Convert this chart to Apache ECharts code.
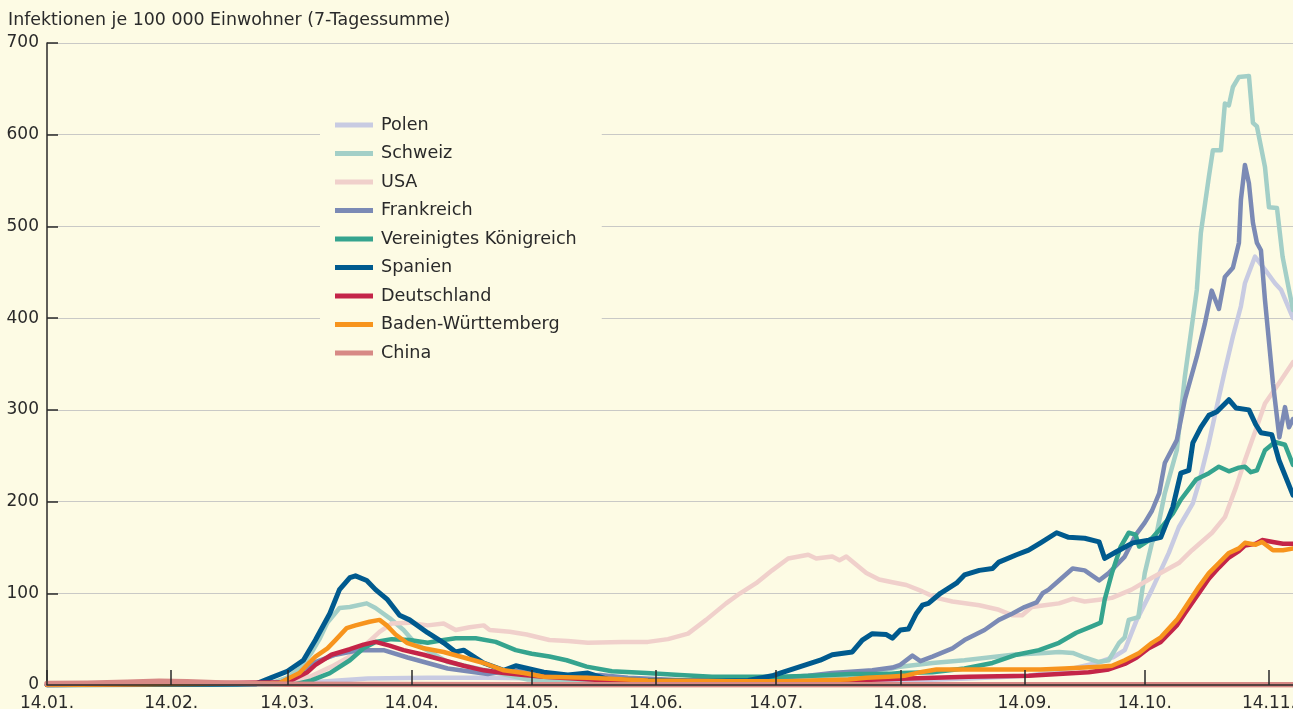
<!DOCTYPE html>
<html>
<head>
<meta charset="utf-8">
<script src="https://cdn.jsdelivr.net/npm/echarts@6/dist/echarts.min.js"></script>
<style>
html,body{margin:0;padding:0;background:#fdfbe4;}
#c{width:1293px;height:709px;}
</style>
</head>
<body>
<div id="c"></div>
<script>
// x = days since 14.01.2020
const tickDays = [0, 31, 60, 91, 121, 152, 182, 213, 244, 274, 305];
const tickLabels = ['14.01.', '14.02.', '14.03.', '14.04.', '14.05.', '14.06.', '14.07.', '14.08.', '14.09.', '14.10.', '14.11.'];
const yTicks = [0, 100, 200, 300, 400, 500, 600, 700];

const seriesNames = ['Polen', 'Schweiz', 'USA', 'Frankreich', 'Vereinigtes Königreich', 'Spanien', 'Deutschland', 'Baden-Württemberg', 'China'];

const polenDays = [0, 55, 62, 70, 80, 95, 110, 125, 140, 160, 180, 200, 215, 230, 245, 255, 262, 266, 269, 272, 275.8, 280, 282.5, 286, 287.5, 290, 291.8, 294, 296, 298, 299, 301.5, 304, 306.5, 308, 311];
const polenVals = [0, 0.5, 2, 4, 7, 8, 8, 7, 5, 4, 3, 4, 5, 7, 10, 17, 24, 30, 38, 71, 104, 144, 172, 198, 220, 264, 300, 343, 380, 413, 438, 467, 453, 438, 431, 400];

const schweizDays = [0, 56, 60, 63, 66, 68, 70, 73, 75.6, 79.8, 82, 85.5, 89, 92, 100, 120, 140, 160, 180, 195, 205, 213, 221, 229, 241, 249, 252.6, 256, 259, 262.6, 265, 267.6, 269, 270, 272.4, 274, 275.8, 277, 279, 282, 284, 287, 288, 290, 291, 293, 294, 295, 296, 297.5, 300, 301, 302, 304, 305, 307, 308.4, 310, 311];
const schweizVals = [0, 2, 8, 18, 35, 50, 68, 84, 85, 89, 84, 73, 60, 45, 25, 6, 3, 3, 5, 8, 12, 20, 24, 27, 33, 35, 36, 35, 30, 25, 27, 46, 52, 71, 74, 122, 155, 166, 209, 256, 336, 431, 493, 554, 583, 583, 634, 632, 652, 663, 664, 613, 609, 565, 521, 520, 467, 431, 409];

const usaDays = [0, 60, 65.6, 71, 75.6, 80, 83, 86, 90.5, 95, 99, 102, 105.5, 109, 110.5, 115.5, 119.7, 125.4, 130, 135, 143.6, 150, 155, 160, 164.5, 169.5, 173, 177, 181, 185, 190, 192, 196, 197.8, 199.5, 204.5, 207.7, 211, 214.5, 218.5, 222, 226, 232.7, 237.6, 241, 243.4, 245.8, 249, 252.6, 256, 259, 262.6, 265.8, 270.7, 275.8, 282.5, 285.8, 290.8, 294, 296.8, 299, 301.7, 304, 307.5, 311];
const usaVals = [0, 2, 9, 20, 31, 46, 58, 67, 68, 65, 67, 60, 63, 65, 60, 58, 55, 49, 48, 46, 47, 47, 50, 56, 71, 89, 100, 111, 125, 138, 142, 138, 140, 136, 140, 122, 115, 112, 109, 102, 95, 91, 87, 82, 76, 76, 85, 87, 89, 94, 91, 93, 95, 104, 117, 133, 147, 166, 183, 216, 245, 278, 307, 329, 352];

const frankDays = [0, 58, 63, 67, 72, 78, 84, 90, 100, 110, 116, 122, 130, 138, 145, 160, 175, 190, 196, 206, 211, 213, 216, 218, 221, 226, 229, 234, 237.6, 241, 244, 247, 248.5, 250, 252.6, 256, 259, 262.6, 265, 269, 271.8, 274, 275.8, 277.6, 279, 282, 284, 287, 289, 290.7, 292.5, 294, 296, 297.5, 298, 299, 300, 301, 302, 303, 304, 306, 307.6, 309, 310, 311];
const frankVals = [0, 2, 12, 25, 33, 38, 38, 30, 18, 12, 16, 14, 9, 11, 8, 5, 6, 10, 13, 16, 19, 22, 32, 26, 31, 40, 49, 60, 71, 78, 85, 90, 100, 104, 114, 127, 125, 114, 122, 140, 164, 177, 190, 209, 242, 267, 311, 358, 394, 430, 410, 445, 455, 482, 529, 567, 547, 504, 482, 474, 420, 329, 270, 303, 281, 290];

const ukDays = [0, 62, 66, 70.6, 75.6, 79, 82, 86, 90.5, 95, 99, 102, 107, 112, 117, 121, 125.4, 129.7, 134.7, 141, 149.6, 157.9, 166, 174.6, 182.8, 191, 201, 210, 213, 221, 229, 236, 242, 247.6, 252.6, 256.9, 260.8, 263, 264, 265.8, 268, 270, 271.7, 272.6, 275.8, 278, 281, 283, 286.8, 290, 292.5, 295, 297.5, 299, 300.5, 302, 304, 306.5, 309, 311];
const ukVals = [0, 1, 5, 13, 27, 40, 47, 50, 49, 46, 49, 51, 51, 47, 38, 34, 31, 27, 20, 15, 13, 11, 9, 9, 9, 10, 12, 12, 13, 14, 18, 24, 33, 38, 46, 57, 64, 68, 93, 122, 151, 166, 164, 151, 160, 171, 187, 202, 224, 231, 238, 233, 237, 238, 232, 234, 256, 265, 262, 240];

const spanienDays = [0, 52, 56, 60, 64, 67, 70.6, 73, 75.6, 77, 79.8, 82, 85, 88, 90.5, 95, 99, 102, 104, 109, 114, 117, 124, 130, 135, 140, 150, 165, 175, 181, 183, 188, 193, 196, 201, 203.5, 206, 209.5, 211, 213, 215, 217, 218.5, 220, 223, 227, 229, 232.7, 236, 237.6, 242, 245, 248, 252, 255, 259, 262.6, 264, 266.8, 271, 275, 278, 281, 283, 285, 286, 288, 290, 292, 295, 296.8, 300, 301.7, 303, 305.7, 307.5, 311];
const spanienVals = [0, 1, 8, 15, 27, 49, 78, 104, 117, 119, 114, 104, 93, 76, 71, 57, 46, 36, 38, 24, 16, 21, 14, 11, 13, 6, 5, 4, 5, 10, 13, 20, 27, 33, 36, 49, 56, 55, 51, 60, 61, 78, 87, 89, 100, 111, 120, 125, 127, 134, 142, 147, 155, 166, 161, 160, 156, 138, 145, 155, 158, 161, 194, 231, 234, 264, 281, 294, 298, 311, 302, 300, 284, 275, 273, 245, 207];

const deDays = [0, 60, 65, 67, 71, 75.6, 79, 82, 85.5, 89, 94, 99, 104, 109, 114, 119, 124, 140, 160, 180, 200, 215, 230, 245, 260, 265, 269, 272, 275, 278, 282, 284, 287.5, 290, 292.5, 295, 297.5, 299, 301.7, 303.3, 306, 308.5, 311];
const deVals = [0, 3, 14, 22, 33, 39, 44, 47, 43, 38, 33, 27, 21, 16, 13, 11, 9, 5, 3, 3, 5, 7, 9, 10, 14, 17, 23, 30, 40, 47, 65, 78, 100, 116, 128, 139, 146, 152, 154, 158, 156, 154, 154];

const bwDays = [0, 58, 60.6, 63, 65.6, 67, 70, 72, 74.8, 77, 80.5, 83, 84.8, 87, 89.8, 94, 99, 104, 109, 114, 119, 124, 135, 150, 170, 185, 200, 204.5, 210, 214, 218, 222, 226, 233, 242, 248, 254, 262.6, 265.8, 269, 272.6, 275.8, 278, 282, 284, 287.5, 290, 292.5, 295, 297.5, 299, 301.7, 303.3, 306, 308.5, 311];
const bwVals = [0, 2, 8, 13, 25, 31, 40, 49, 62, 65, 69, 71, 65, 55, 46, 40, 36, 30, 24, 16, 13, 9, 8, 5, 4, 4, 6, 8, 9, 10, 14, 17, 17, 17, 17, 17, 18, 20, 21, 27, 35, 46, 52, 71, 84, 107, 122, 133, 144, 149, 155, 153, 156, 147, 147, 149];

const chinaDays = [0, 10, 20, 28, 35, 42, 50, 60, 80, 120, 200, 311];
const chinaVals = [1.5, 2, 3, 4, 3.5, 2.5, 1.5, 0.8, 0.5, 0.3, 0.3, 0.3];

const colors = ['#c8cbe2', '#a3cfc7', '#f0d0cb', '#7b8ab5', '#35a48e', '#005a8e', '#c42448', '#f7941d', '#d78985'];
const widths = [4.5, 4.5, 4.5, 4.5, 4.5, 5, 4.5, 4.5, 5.5];
const dayArrays = [polenDays, schweizDays, usaDays, frankDays, ukDays, spanienDays, deDays, bwDays, chinaDays];
const valArrays = [polenVals, schweizVals, usaVals, frankVals, ukVals, spanienVals, deVals, bwVals, chinaVals];

const BG = '#fdfbe4';
const FONT = 'DejaVu Sans';
const TXT = '#2a2a2a';

const series = seriesNames.map((name, i) => ({
  name: name,
  type: 'line',
  data: dayArrays[i].map((d, j) => [d, valArrays[i][j]]),
  showSymbol: false,
  symbol: 'none',
  smooth: false,
  lineStyle: { color: colors[i], width: widths[i], join: 'round', cap: 'round' },
  itemStyle: { color: colors[i] },
  emphasis: { disabled: true },
  animation: false
}));

const chart = echarts.init(document.getElementById('c'), null, { renderer: 'canvas' });
chart.setOption({
  backgroundColor: BG,
  animation: false,
  title: {
    text: 'Infektionen je 100 000 Einwohner (7-Tagessumme)',
    left: 3, top: 7,
    textStyle: { fontFamily: FONT, fontSize: 17.4, fontWeight: 'normal', color: TXT }
  },
  legend: {
    orient: 'vertical',
    left: 320, top: 106,
    padding: [10, 25, 10, 15],
    backgroundColor: BG,
    icon: 'rect',
    itemWidth: 38, itemHeight: 5,
    itemGap: 10.5,
    data: seriesNames,
    selectedMode: false,
    textStyle: { fontFamily: FONT, fontSize: 17.6, color: TXT, lineHeight: 18, padding: [0, 0, 0, 3] }
  },
  grid: { left: 47, right: 0, top: 43, bottom: 24, containLabel: false, outerBoundsMode: 'none' },
  xAxis: {
    type: 'value', min: 0, max: 311,
    z: 5,
    axisLine: { show: true, onZero: false, lineStyle: { color: '#2a2a2a', width: 1.5 } },
    axisTick: { show: true, inside: true, length: 15, customValues: tickDays, lineStyle: { color: '#2a2a2a', width: 1.5 } },
    axisLabel: {
      customValues: tickDays,
      formatter: v => tickLabels[tickDays.indexOf(v)] || '',
      fontFamily: FONT, fontSize: 17, color: TXT, margin: 10
    },
    splitLine: { show: false }
  },
  yAxis: {
    type: 'value', min: 0, max: 700, interval: 100,
    axisLine: { show: true, lineStyle: { color: '#2a2a2a', width: 1.5 } },
    axisTick: { show: true, inside: true, length: 11, lineStyle: { color: '#2a2a2a', width: 1.5 } },
    axisLabel: { fontFamily: FONT, fontSize: 17, color: TXT, margin: 8 },
    splitLine: { show: true, lineStyle: { color: '#c9c9c6', width: 1.2 } }
  },
  series: series
});
</script>
</body>
</html>
